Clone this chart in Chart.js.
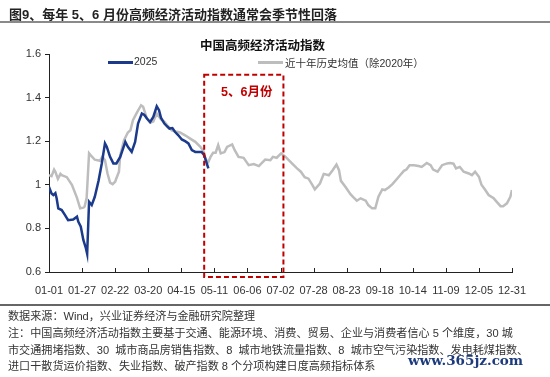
<!DOCTYPE html>
<html>
<head>
<meta charset="utf-8">
<script src="https://cdn.jsdelivr.net/npm/chart.js@4/dist/chart.umd.min.js"></script>
<style>
  html, body { margin: 0; padding: 0; background: #fff; }
  body { width: 550px; height: 377px; position: relative; overflow: hidden;
    font-family: "Liberation Sans", "Noto Sans CJK SC", sans-serif; color: #222; }
  #wrap { position: absolute; left: 0; top: 0; width: 550px; height: 377px; }
  .abs { position: absolute; white-space: nowrap; }
  .title { left: 9px; top: 4px; font-size: 13px; font-weight: bold; color: #222; }
  .rule { left: 0; width: 550px; height: 2px; background: #8a8a8a; }
  .ctitle { left: 200px; top: 35px; font-size: 12.5px; font-weight: bold; color: #111; }
  .leg { font-size: 10.5px; color: #333; top: 55px; }
  .swatch { position: absolute; height: 2.5px; width: 25px; }
  .note { left: 8px; font-size: 11.1px; color: #333; }
  .wm { left: 408px; top: 352px; font-family: "DejaVu Serif", "Liberation Serif", serif;
    font-weight: bold; font-size: 13.5px; color: #1d3b7c; }
</style>
</head>
<body>
<div id="wrap"><canvas id="chart" width="550" height="377"></canvas></div>

<div class="abs title">图9、每年 5、6 月份高频经济活动指数通常会季节性回落</div>
<div class="abs rule" style="top:21px;"></div>
<div class="abs ctitle">中国高频经济活动指数</div>
<div class="swatch" style="left:108px; top:61px; background:#1b3a8c;"></div>
<div class="abs leg" style="left:134px;">2025</div>
<div class="swatch" style="left:258px; top:61px; background:#bdbdbd;"></div>
<div class="abs leg" style="left:285px;">近十年历史均值（除2020年）</div>

<div class="abs rule" style="top:304px; height:1.5px; background:#666;"></div>
<div class="abs note" style="top:307px;">数据来源：Wind，兴业证券经济与金融研究院整理</div>
<div class="abs note" style="top:324px;">注：中国高频经济活动指数主要基于交通、能源环境、消费、贸易、企业与消费者信心 5 个维度，30 城</div>
<div class="abs note" style="top:341px;">市交通拥堵指数、30&nbsp; 城市商品房销售指数、8&nbsp; 城市地铁流量指数、8&nbsp; 城市空气污染指数、发电耗煤指数、</div>
<div class="abs note" style="top:357px;">进口干散货运价指数、失业指数、破产指数 8 个分项构建日度高频指标体系</div>
<div class="abs wm">www.365jz.com</div>

<script>
// x axis: day of year (0 = 01-01), ticks every 26 days
const tickLabels = ['01-01', '01-27', '02-22', '03-20', '04-15', '05-11', '06-06', '07-02',
  '07-28', '08-23', '09-18', '10-14', '11-09', '12-05', '12-31']

// 2025 series
const days2025 = [0, 2, 3.4, 5, 6, 7.3, 10, 12.6, 15, 19, 22, 23, 25, 27, 29, 30, 31.5, 33.6, 36, 39,
  41.5, 44, 45.4, 48, 50.6, 53, 56, 60, 62, 65, 67.7, 70, 73, 75, 77, 79.5, 82, 84.7, 86.5, 88,
  90.7, 93.4, 94.7, 97, 99, 101.7, 104.4, 107, 109.6, 112.3, 115, 117.5, 120, 122, 124, 125.3]
const values2025 = [0.99, 0.96, 0.953, 0.962, 0.938, 0.892, 0.884, 0.861, 0.838, 0.841, 0.854, 0.831,
  0.808, 0.747, 0.709, 0.683, 0.922, 0.907, 0.945, 1.02, 1.098, 1.19, 1.175, 1.128, 1.098, 1.098,
  1.128, 1.197, 1.174, 1.151, 1.197, 1.281, 1.327, 1.32, 1.304, 1.288, 1.311, 1.36, 1.342, 1.308,
  1.281, 1.265, 1.258, 1.26, 1.243, 1.227, 1.208, 1.2, 1.19, 1.159, 1.151, 1.151, 1.151, 1.136,
  1.098, 1.075]

// ten-year average (excluding 2020)
const avgDays = [0, 2, 4, 5, 7, 9, 10, 14, 18, 22, 24.5, 27, 28, 29.6, 31.5, 33.6, 36, 40, 42, 44,
  46, 48, 50, 52, 53, 55, 56, 59, 62, 64, 66, 69, 72.4, 74, 77, 79.5, 82, 84.7, 88, 90.7, 93.4,
  96.5, 100.5, 103, 107, 111, 115, 119, 121.4, 123.3, 125.3, 127, 129, 131, 133, 135, 138, 140,
  144, 146, 149, 153, 157, 161, 165, 167, 170, 174, 176, 179, 182.5, 186, 191, 195, 198, 201,
  204, 207, 209, 213, 216, 220, 223, 226, 228, 229.5, 233, 237, 239, 242, 245, 249, 251, 254,
  256.5, 259, 262, 264, 267, 270, 274, 276, 279, 281, 283.5, 287, 290.5, 293, 297, 300, 302,
  305.5, 309, 313, 315.5, 318, 320, 323, 326, 330, 332.5, 335, 338, 340, 343, 345.6, 349.6, 352,
  355, 357, 360, 362.7, 364]
const avgValues = [1.044, 1.04, 1.07, 1.06, 1.027, 1.05, 1.044, 1.035, 1.0, 0.94, 0.892, 0.895, 0.9,
  0.94, 1.145, 1.13, 1.115, 1.11, 1.13, 1.113, 1.052, 1.01, 1.003, 1.014, 1.03, 1.06, 1.136, 1.205,
  1.24, 1.25, 1.296, 1.33, 1.365, 1.358, 1.304, 1.285, 1.29, 1.327, 1.3, 1.29, 1.27, 1.25, 1.243,
  1.24, 1.227, 1.212, 1.197, 1.174, 1.155, 1.115, 1.105, 1.128, 1.147, 1.147, 1.182, 1.144, 1.15,
  1.174, 1.185, 1.159, 1.128, 1.124, 1.09, 1.095, 1.086, 1.098, 1.116, 1.113, 1.128, 1.124, 1.144,
  1.128, 1.098, 1.075, 1.06, 1.035, 1.028, 1.0, 0.979, 1.006, 1.05, 1.044, 1.067, 1.093, 1.067,
  1.018, 0.991, 0.957, 0.945, 0.927, 0.938, 0.927, 0.907, 0.892, 0.892, 0.945, 0.979, 0.976,
  0.988, 1.003, 1.03, 1.044, 1.064, 1.07, 1.09, 1.09, 1.086, 1.082, 1.1, 1.09, 1.07, 1.06, 1.09,
  1.098, 1.1, 1.097, 1.075, 1.082, 1.06, 1.052, 1.044, 1.06, 1.037, 1.0, 0.976, 0.953, 0.938,
  0.922, 0.902, 0.902, 0.915, 0.945, 0.976]

// May-June highlight window (days)
const boxDays = [122, 184.3]
const boxLabel = '5、6月份'

const toPoints = (xs, ys) => xs.map((x, i) => ({ x, y: ys[i] }))

const highlight = {
  id: 'highlight',
  afterDatasetsDraw(chart) {
    const { ctx, chartArea, scales } = chart
    const x = scales.x, y = scales.y
    ctx.save()
    // inward ticks on x axis
    ctx.strokeStyle = '#222'
    ctx.lineWidth = 1
    for (let i = 0; i < tickLabels.length; i++) {
      const px = Math.round(x.getPixelForValue(i * 26)) + 0.5
      ctx.beginPath()
      ctx.moveTo(px, chartArea.bottom)
      ctx.lineTo(px, chartArea.bottom - 4)
      ctx.stroke()
    }
    // red dashed box
    const x0 = x.getPixelForValue(boxDays[0])
    const x1 = x.getPixelForValue(boxDays[1])
    const y0 = y.getPixelForValue(1.505)
    const y1 = chartArea.bottom + 5
    ctx.strokeStyle = '#c00000'
    ctx.lineWidth = 2
    ctx.setLineDash([5, 3])
    ctx.strokeRect(x0, y0, x1 - x0, y1 - y0)
    ctx.setLineDash([])
    ctx.fillStyle = '#c00000'
    ctx.font = 'bold 12.5px "Liberation Sans", "Noto Sans CJK SC", sans-serif'
    ctx.textAlign = 'center'
    ctx.textBaseline = 'middle'
    ctx.fillText(boxLabel, (x0 + x1) / 2 + 3, y0 + 18)
    ctx.restore()
  },
}

const tickFont = { family: '"Liberation Sans", "Noto Sans CJK SC", sans-serif', size: 11 }

new Chart(document.getElementById('chart').getContext('2d'), {
  type: 'line',
  data: {
    datasets: [
      {
        label: '2025',
        data: toPoints(days2025, values2025),
        borderColor: '#1b3a8c',
        borderWidth: 2.5,
        pointRadius: 0,
        tension: 0,
      },
      {
        label: '近十年历史均值（除2020年）',
        data: toPoints(avgDays, avgValues),
        borderColor: '#bdbdbd',
        borderWidth: 2.5,
        pointRadius: 0,
        tension: 0,
      },
    ],
  },
  options: {
    responsive: false,
    animation: false,
    devicePixelRatio: 1,
    layout: { padding: { left: 0, right: 38, top: 54, bottom: 80 } },
    plugins: { legend: { display: false }, tooltip: { enabled: false } },
    scales: {
      x: {
        type: 'linear',
        min: 0,
        max: 364,
        afterFit: (s) => { s.height = 25 },
        afterBuildTicks: (s) => { s.ticks = tickLabels.map((_, i) => ({ value: i * 26 })) },
        ticks: {
          autoSkip: false,
          maxRotation: 0,
          color: '#333',
          font: tickFont,
          padding: 4,
          callback: (v) => tickLabels[Math.round(v / 26)],
        },
        grid: { display: false },
        border: { display: true, color: '#222', width: 1 },
      },
      y: {
        min: 0.6,
        max: 1.6,
        afterFit: (s) => { s.width = 49 },
        ticks: {
          stepSize: 0.2,
          color: '#333',
          font: tickFont,
          padding: 4,
          callback: (v) => String(Math.round(v * 10) / 10),
        },
        grid: { drawOnChartArea: false, tickLength: 4, color: '#222' },
        border: { display: true, color: '#222', width: 1 },
      },
    },
  },
  plugins: [highlight],
})
</script>
</body>
</html>
